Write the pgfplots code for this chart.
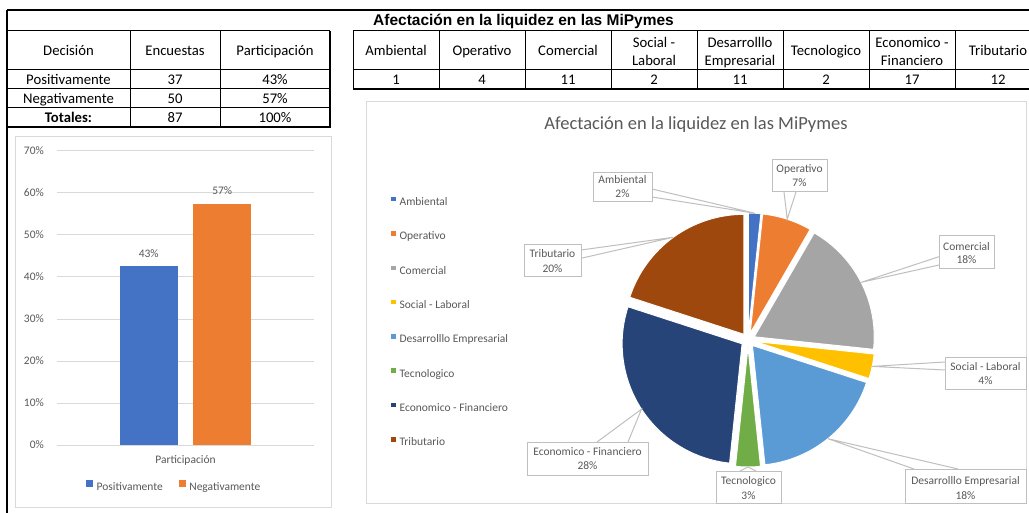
\documentclass[border=0pt]{standalone}
\usepackage{pgfplots}
\pgfplotsset{compat=1.18}
\usepackage{pgfplotstable}
\usepackage{fontspec}
\setmainfont{Carlito}
\newfontfamily\arialf{Liberation Sans}
\definecolor{txt}{HTML}{595959}
\definecolor{gridc}{HTML}{D9D9D9}
\definecolor{lblc}{HTML}{BFBFBF}
\definecolor{cBlue}{HTML}{4472C4}
\definecolor{cOrange}{HTML}{ED7D31}
\definecolor{cGray}{HTML}{A5A5A5}
\definecolor{cGold}{HTML}{FFC000}
\definecolor{cLBlue}{HTML}{5B9BD5}
\definecolor{cGreen}{HTML}{70AD47}
\definecolor{cDBlue}{HTML}{264478}
\definecolor{cBrown}{HTML}{9E480E}
\newcommand\tabf{\fontsize{14.7}{17.9}\selectfont}
\newcommand\chf{\fontsize{11.5}{13.8}\selectfont}

\pgfplotstableread{
cat val
Ambiental 1
Operativo 4
Comercial 11
Social 2
Desarrollo 11
Tecnologico 2
Economico 17
Tributario 12
}\piedata

\begin{document}
\begin{tikzpicture}
\useasboundingbox (0,0) rectangle (1029pt,-513pt);
\fill[white] (0,0) rectangle (1029pt,-513pt);
\begin{scope}[x=1pt,y=-1pt, tab/.style={font=\tabf, inner sep=0pt, anchor=base}]
% sheet borders
\draw[line width=2pt] (7,10) -- (1029,10);
\draw[line width=1.5pt] (7,10) -- (7,513);
\node[font=\arialf\bfseries\fontsize{15.5}{18}\selectfont, inner sep=0pt, anchor=base] at (523.5,25.5) {Afectación en la liquidez en las MiPymes};
% table 1
\draw[line width=1pt] (7,31) -- (330,31) (7,70) -- (330,70) (7,89) -- (330,89) (7,108) -- (330,108);
\draw[line width=2pt] (7,127.5) -- (331,127.5);
\draw[line width=1pt] (130,31) -- (130,128) (220,31) -- (220,128);
\draw[line width=1.5pt] (330,31) -- (330,128);
\node[tab] at (68.5,55.7) {Decisión};
\node[tab] at (175,55.7) {Encuestas};
\node[tab] at (275,55.7) {Participación};
\node[tab] at (68.5,84.7) {Positivamente};
\node[tab] at (175,84.7) {37};
\node[tab] at (275,84.7) {43\%};
\node[tab] at (68.5,103.7) {Negativamente};
\node[tab] at (175,103.7) {50};
\node[tab] at (275,103.7) {57\%};
\node[tab] at (68.5,122.7) {\bfseries Totales:};
\node[tab] at (175,122.7) {87};
\node[tab] at (275,122.7) {100\%};
% table 2
\draw[line width=1pt] (353,31) -- (1029,31) (353,70) -- (1029,70);
\draw[line width=2pt] (353,89) -- (1029,89);
\foreach \x in {353,439,525,611,697,783,869,955} \draw[line width=1pt] (\x,31) -- (\x,89);
\node[tab] at (396,55.7) {Ambiental};
\node[tab] at (482,55.7) {Operativo};
\node[tab] at (568,55.7) {Comercial};
\node[tab] at (654,47.4) {Social -};
\node[tab] at (654,65.7) {Laboral};
\node[tab] at (740,47.4) {Desarrolllo};
\node[tab] at (740,65.7) {Empresarial};
\node[tab] at (826,55.7) {Tecnologico};
\node[tab] at (912,47.4) {Economico -};
\node[tab] at (912,65.7) {Financiero};
\node[tab] at (998,55.7) {Tributario};
\node[tab] at (396,84.7) {1};
\node[tab] at (482,84.7) {4};
\node[tab] at (568,84.7) {11};
\node[tab] at (654,84.7) {2};
\node[tab] at (740,84.7) {11};
\node[tab] at (826,84.7) {2};
\node[tab] at (912,84.7) {17};
\node[tab] at (998,84.7) {12};
% chart frames
\draw[gridc, line width=1pt] (15,137) rectangle (331,507);
\draw[gridc, line width=1pt] (366,102) rectangle (1026,503);
\end{scope}

% ---------- bar chart ----------
\begin{axis}[
  at={(57pt,-445pt)}, anchor=south west,
  width=257pt, height=294pt, scale only axis,
  xmin=-1, xmax=1, ymin=0, ymax=70,
  xtick={0}, xticklabels={Participación},
  ytick={0,10,20,30,40,50,60,70},
  yticklabels={0\%,10\%,20\%,30\%,40\%,50\%,60\%,70\%},
  ymajorgrids, major grid style={gridc, line width=1pt},
  axis line style={draw=none}, tick style={draw=none},
  ticklabel style={font=\chf, text=txt, inner sep=0pt},
  yticklabel style={anchor=base east, xshift=-13pt, yshift=-3.7pt},
  xticklabel style={anchor=base, yshift=-18.7pt},
  /pgf/number format/assume math mode=true,
  nodes near coords={\pgfmathprintnumber[fixed,precision=0]{\pgfplotspointmeta}\%},
  point meta=y,
  every node near coord/.append style={font=\chf, text=txt, anchor=base, inner sep=0pt, yshift=9.3pt},
  legend columns=2,
  legend style={at={(axis description cs:0.1128,-0.1418)}, anchor=west, draw=none, fill=none, inner sep=0pt,
    font=\chf, text=txt, nodes={inner sep=0pt, text height=9pt, text depth=3pt},
    /tikz/every odd column/.append style={column sep=3.5pt},
    /tikz/every even column/.append style={column sep=16pt}},
  clip=false,
]
\addplot[ybar, bar width=58pt, bar shift=-36.75pt, fill=cBlue, draw=none,
  every node near coord/.append style={xshift=-36.75pt},
  legend image code/.code={\fill[cBlue] (0pt,0.2pt) rectangle (7pt,7.2pt);}]
  coordinates {(0,42.53)};
\addlegendentry{Positivamente}
\addplot[ybar, bar width=58pt, bar shift=36.75pt, fill=cOrange, draw=none,
  every node near coord/.append style={xshift=36.75pt},
  legend image code/.code={\fill[cOrange] (0pt,0.2pt) rectangle (7pt,7.2pt);}]
  coordinates {(0,57.47)};
\addlegendentry{Negativamente}
\end{axis}

% ---------- pie chart ----------
\begin{axis}[
  at={(748pt,-340pt)}, anchor=center,
  width=260pt, height=260pt, scale only axis,
  xmin=-130, xmax=130, ymin=-130, ymax=130,
  hide axis, clip=false,
  legend cell align=left,
  legend style={at={(axis description cs:-0.8731,1.0523)}, anchor=north west, draw=none, fill=none, inner sep=0pt,
    font=\chf, text=txt, row sep=22.3pt, nodes={inner sep=0pt, text height=9pt, text depth=3pt},
    /tikz/every odd column/.append style={column sep=4.5pt}},
]
\addlegendimage{legend image code/.code={\fill[cBlue] (0pt,2pt) rectangle (3.5pt,5.5pt);}}
\addlegendentry{Ambiental}
\addlegendimage{legend image code/.code={\fill[cOrange] (0pt,2pt) rectangle (3.5pt,5.5pt);}}
\addlegendentry{Operativo}
\addlegendimage{legend image code/.code={\fill[cGray] (0pt,2pt) rectangle (3.5pt,5.5pt);}}
\addlegendentry{Comercial}
\addlegendimage{legend image code/.code={\fill[cGold] (0pt,2pt) rectangle (3.5pt,5.5pt);}}
\addlegendentry{Social - Laboral}
\addlegendimage{legend image code/.code={\fill[cLBlue] (0pt,2pt) rectangle (3.5pt,5.5pt);}}
\addlegendentry{Desarrolllo Empresarial}
\addlegendimage{legend image code/.code={\fill[cGreen] (0pt,2pt) rectangle (3.5pt,5.5pt);}}
\addlegendentry{Tecnologico}
\addlegendimage{legend image code/.code={\fill[cDBlue] (0pt,2pt) rectangle (3.5pt,5.5pt);}}
\addlegendentry{Economico - Financiero}
\addlegendimage{legend image code/.code={\fill[cBrown] (0pt,2pt) rectangle (3.5pt,5.5pt);}}
\addlegendentry{Tributario}
\pgfplotsextra{
  \pgfplotstablegetrowsof{\piedata}
  \pgfmathtruncatemacro\nrows{\pgfplotsretval-1}
  \gdef\tot{0}
  \foreach \i in {0,...,\nrows}{%
    \pgfplotstablegetelem{\i}{val}\of\piedata
    \pgfmathsetmacro\tmp{\tot+\pgfplotsretval}\xdef\tot{\tmp}}
  \gdef\cum{0}
  \foreach \i/\col in {0/cBlue,1/cOrange,2/cGray,3/cGold,4/cLBlue,5/cGreen,6/cDBlue,7/cBrown}{%
    \pgfplotstablegetelem{\i}{val}\of\piedata
    \let\sv\pgfplotsretval
    \pgfmathsetmacro\sa{90-\cum/\tot*360}
    \pgfmathsetmacro\sb{90-(\cum+\sv)/\tot*360}
    \pgfmathsetmacro\sm{(\sa+\sb)/2}
    \fill[\col, draw=white, line width=1pt] (axis cs:{7*cos(\sm)},{7*sin(\sm)}) -- ++(\sa:120pt) arc[start angle=\sa, end angle=\sb, radius=120pt] -- cycle;
    \coordinate (tip\i) at (axis cs:{127*cos(\sm)},{127*sin(\sm)});
    \pgfmathsetmacro\tmp{\cum+\sv}\xdef\cum{\tmp}
  }
}
\end{axis}

% ---------- pie title and data callouts ----------
\begin{scope}[x=1pt,y=-1pt, lb/.style={font=\chf, text=txt, inner sep=0pt, anchor=base},
  co/.style={fill=white, draw=lblc, line width=1pt}]
\node[font=\fontsize{18.5}{22}\selectfont, text=txt, inner sep=0pt, anchor=base] at (696,129.5) {Afectación en la liquidez en las MiPymes};
% Ambiental
\filldraw[co] (652,189) -- (tip0) -- (652,197);
\filldraw[co] (593,173) rectangle (652,202);
\node[lb] at (622.5,183.2) {Ambiental}; \node[lb] at (622.5,197.2) {2\%};
% Operativo
\filldraw[co] (784,192) -- (tip1) -- (796,192);
\filldraw[co] (772,160) rectangle (827,192);
\node[lb] at (799.5,172.7) {Operativo}; \node[lb] at (799.5,186.7) {7\%};
% Comercial
\filldraw[co] (939,256.7) -- (tip2) -- (939,265);
\filldraw[co] (939,236) rectangle (994,269);
\node[lb] at (966.5,250.4) {Comercial}; \node[lb] at (966.5,263.7) {18\%};
% Social - Laboral
\filldraw[co] (945,362) -- (tip3) -- (945,370);
\filldraw[co] (945,357) rectangle (1026,389);
\node[lb] at (985.5,370.4) {Social - Laboral}; \node[lb] at (985.5,384.4) {4\%};
% Desarrollo
\filldraw[co] (914,469) -- (tip4) -- (958,469);
\filldraw[co] (905,469) rectangle (1026,503);
\node[lb] at (965.5,484.7) {Desarrolllo Empresarial}; \node[lb] at (965.5,499.4) {18\%};
% Tecnologico
\filldraw[co] (740,471) -- (tip5) -- (756,471);
\filldraw[co] (716,471) rectangle (781,503);
\node[lb] at (748.5,484.4) {Tecnologico}; \node[lb] at (748.5,499.4) {3\%};
% Economico
\filldraw[co] (597,442) -- (tip6) -- (628,442);
\filldraw[co] (527,442) rectangle (648,475);
\node[lb] at (587.5,455.4) {Economico - Financiero}; \node[lb] at (587.5,469.4) {28\%};
% Tributario
\filldraw[co] (581,250) -- (tip7) -- (581,258.3);
\filldraw[co] (524,245) rectangle (581,277);
\node[lb] at (552.5,258) {Tributario}; \node[lb] at (552.5,272.7) {20\%};
\end{scope}
\end{tikzpicture}
\end{document}
